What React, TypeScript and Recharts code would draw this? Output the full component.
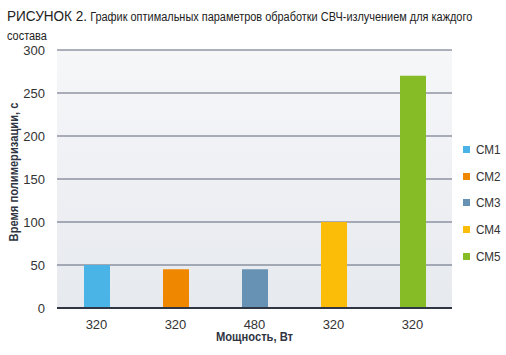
import { Bar, BarChart, CartesianGrid, Cell, Label, XAxis, YAxis } from 'recharts'

const powers = ['320', '320', '480', '320', '320']
const series = ['СМ1', 'СМ2', 'СМ3', 'СМ4', 'СМ5']
const times = [50, 45, 45, 100, 270]
const colors = ['#4bb4e6', '#f08700', '#6792b4', '#fbbd08', '#86bc25']
const yTicks = [0, 50, 100, 150, 200, 250, 300]

const data = powers.map((p, i) => ({ key: series[i], power: p, time: times[i] }))

const FONT = '"Liberation Sans", Arial, sans-serif'

// condensed bold axis title, squeezed along its own direction
function AxisTitle({
  x,
  y,
  text,
  rotate = 0,
}: {
  x: number
  y: number
  text: string
  rotate?: number
}) {
  return (
    <text
      transform={`translate(${x},${y}) rotate(${rotate}) scale(0.86,1)`}
      textAnchor="middle"
      dominantBaseline="central"
      fill="#2f3542"
      fontSize={13}
      fontWeight="bold"
      fontFamily={FONT}
    >
      {text}
    </text>
  )
}

export default function App() {
  return (
    <div
      style={{
        position: 'absolute',
        left: 0,
        top: 0,
        width: 506,
        height: 355,
        background: '#fff',
        fontFamily: FONT,
        color: '#222',
      }}
    >
      <div
        style={{
          position: 'absolute',
          left: 7,
          top: 6,
          width: 570,
          fontSize: 12.5,
          lineHeight: '19px',
          transform: 'scaleX(0.875)',
          transformOrigin: 'left top',
        }}
      >
        <span style={{ fontSize: 15.5 }}>РИСУНОК 2.</span> График оптимальных параметров
        обработки СВЧ-излучением для каждого состава
      </div>

      <BarChart
        width={506}
        height={355}
        data={data}
        margin={{ top: 50, right: 54, left: 17, bottom: 17 }}
        style={{ position: 'absolute', left: 0, top: 0 }}
      >
        <defs>
          <linearGradient id="plotBg" x1="0" y1="0" x2="0" y2="1">
            <stop offset="0%" stopColor="#f6f7f9" />
            <stop offset="100%" stopColor="#e6e9ee" />
          </linearGradient>
        </defs>
        <CartesianGrid
          vertical={false}
          stroke="#5d6579"
          strokeWidth={1}
          fill="url(#plotBg)"
          fillOpacity={1}
        />
        <XAxis
          dataKey="key"
          tickFormatter={(_v, i) => powers[i]}
          height={30}
          tick={{ fill: '#333', fontSize: 13, fontFamily: FONT }}
          tickLine={false}
          axisLine={{ stroke: '#2f3542', strokeWidth: 2 }}
          tickMargin={6}
        >
          <Label
            content={({ viewBox }: any) => (
              <AxisTitle x={viewBox.x + viewBox.width / 2} y={337} text="Мощность, Вт" />
            )}
          />
        </XAxis>
        <YAxis
          domain={[0, 300]}
          ticks={yTicks}
          width={40}
          tick={{ fill: '#333', fontSize: 13, fontFamily: FONT }}
          tickLine={false}
          axisLine={false}
          tickMargin={6}
        >
          <Label
            content={() => (
              <AxisTitle x={14} y={172} rotate={-90} text="Время полимеризации, с" />
            )}
          />
        </YAxis>
        <Bar dataKey="time" barSize={26} isAnimationActive={false}>
          {data.map((d, i) => (
            <Cell key={d.key} fill={colors[i]} />
          ))}
        </Bar>
      </BarChart>

      <div style={{ position: 'absolute', left: 463, top: 136 }}>
        {series.map((s, i) => (
          <div
            key={s}
            style={{ display: 'flex', alignItems: 'center', height: 26.8, fontSize: 13, color: '#333' }}
          >
            <span
              style={{ width: 7, height: 7, background: colors[i], marginRight: 6, display: 'inline-block' }}
            />
            <span style={{ display: 'inline-block', transform: 'scaleX(0.9)', transformOrigin: 'left center' }}>
              {s}
            </span>
          </div>
        ))}
      </div>
    </div>
  )
}
